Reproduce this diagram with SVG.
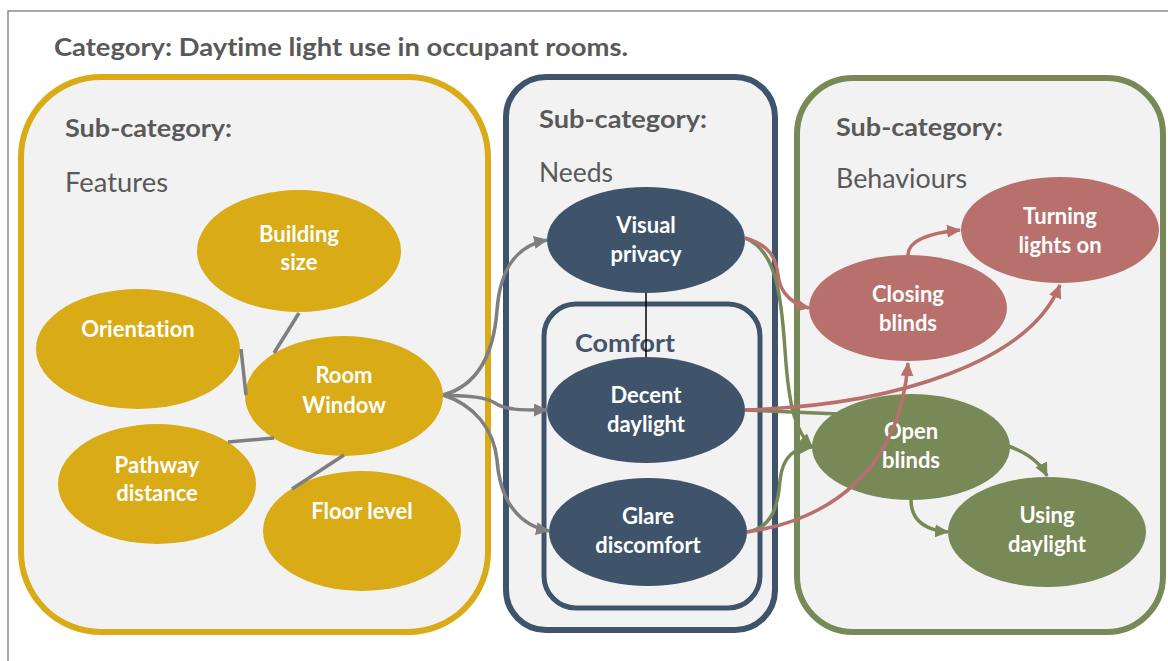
<svg xmlns="http://www.w3.org/2000/svg" width="1168" height="661" viewBox="0 0 1168 661">
<style>
text{font-variant-ligatures:none}
.box{fill:#f2f2f2;stroke-width:6}
.hd{font-family:Lato,"Open Sans","Liberation Sans",sans-serif;font-weight:bold;font-size:25px;fill:#595959}
.sub{font-family:Lato,"Open Sans","Liberation Sans",sans-serif;font-size:26px;fill:#595959}
.lbl{font-family:Lato,"Open Sans","Liberation Sans",sans-serif;font-weight:bold;font-size:22px;fill:#ffffff;text-anchor:middle}
.y{fill:#d8ab17}
.n{fill:#3f546b}
.r{fill:#b8706c}
.g{fill:#778957}
.cg{fill:none;stroke:#7f7f7f;stroke-width:3.5}
.cr{fill:none;stroke:#b8706c;stroke-width:3.5}
.cgr{fill:none;stroke:#778957;stroke-width:3.5}
</style>
<defs>
<marker id="ag" markerUnits="userSpaceOnUse" markerWidth="15" markerHeight="13" refX="13" refY="6.5" orient="auto"><path d="M0,0 L14,6.5 L0,13 z" fill="#7f7f7f"/></marker>
<marker id="ar" markerUnits="userSpaceOnUse" markerWidth="15" markerHeight="13" refX="13" refY="6.5" orient="auto"><path d="M0,0 L14,6.5 L0,13 z" fill="#b8706c"/></marker>
<marker id="agr" markerUnits="userSpaceOnUse" markerWidth="15" markerHeight="13" refX="13" refY="6.5" orient="auto"><path d="M0,0 L14,6.5 L0,13 z" fill="#778957"/></marker>
</defs>
<rect x="0" y="0" width="1168" height="661" fill="#ffffff"/>
<rect x="8" y="11" width="1200" height="700" fill="#ffffff" stroke="#8c8c8c" stroke-width="1.5"/>
<text class="hd" x="54" y="56" textLength="574" lengthAdjust="spacingAndGlyphs">Category: Daytime light use in occupant rooms.</text>

<g id="features">
<rect class="box" x="21" y="77" width="467" height="555" rx="80" ry="80" stroke="#d8ab17"/>
<text class="hd" x="65" y="137" textLength="167" lengthAdjust="spacingAndGlyphs">Sub-category:</text>
<text class="sub" x="65" y="192" textLength="103" lengthAdjust="spacingAndGlyphs">Features</text>
</g>
<g id="needs">
<rect class="box" x="506" y="77" width="269" height="553" rx="40" ry="40" stroke="#3f546b"/>
<text class="hd" x="539" y="128" textLength="168" lengthAdjust="spacingAndGlyphs">Sub-category:</text>
<text class="sub" x="539" y="182" textLength="74" lengthAdjust="spacingAndGlyphs">Needs</text>
</g>
<g id="comfort">
<rect x="544" y="304" width="216" height="304" rx="32" ry="32" fill="#f2f2f2" stroke="#3f546b" stroke-width="5"/>
<text class="hd" x="575" y="352" style="fill:#44546a" textLength="100" lengthAdjust="spacingAndGlyphs">Comfort</text>
</g>
<g id="behaviours">
<rect class="box" x="797" y="78" width="366" height="554" rx="56" ry="56" stroke="#778957"/>
<text class="hd" x="836" y="136" textLength="167" lengthAdjust="spacingAndGlyphs">Sub-category:</text>
<text class="sub" x="836" y="188" textLength="131" lengthAdjust="spacingAndGlyphs">Behaviours</text>
</g>

<g id="building-size"><ellipse class="y" cx="299" cy="251" rx="102" ry="61"/><text class="lbl" x="299" y="242">Building</text><text class="lbl" x="299" y="270">size</text></g>
<g id="orientation"><ellipse class="y" cx="138" cy="349" rx="102" ry="60"/><text class="lbl" x="138" y="337">Orientation</text></g>
<g id="room-window"><ellipse class="y" cx="344" cy="396" rx="99" ry="60"/><text class="lbl" x="344" y="383">Room</text><text class="lbl" x="344" y="413">Window</text></g>
<g id="pathway-distance"><ellipse class="y" cx="157" cy="484" rx="99" ry="60"/><text class="lbl" x="157" y="473">Pathway</text><text class="lbl" x="157" y="501">distance</text></g>
<g id="floor-level"><ellipse class="y" cx="362" cy="531" rx="99" ry="60"/><text class="lbl" x="362" y="519">Floor level</text></g>

<g id="visual-privacy"><ellipse class="n" cx="646" cy="240" rx="99" ry="53"/><text class="lbl" x="646" y="233">Visual</text><text class="lbl" x="646" y="262">privacy</text></g>
<g id="decent-daylight"><ellipse class="n" cx="646" cy="410" rx="99" ry="53"/><text class="lbl" x="646" y="403">Decent</text><text class="lbl" x="646" y="432">daylight</text></g>
<g id="glare-discomfort"><ellipse class="n" cx="648" cy="532" rx="99" ry="54"/><text class="lbl" x="648" y="524">Glare</text><text class="lbl" x="648" y="553">discomfort</text></g>

<g id="turning-lights-on"><ellipse class="r" cx="1060" cy="230" rx="99" ry="53"/><text class="lbl" x="1060" y="224">Turning</text><text class="lbl" x="1060" y="253">lights on</text></g>
<g id="closing-blinds"><ellipse class="r" cx="908" cy="308" rx="99" ry="53"/><text class="lbl" x="908" y="302">Closing</text><text class="lbl" x="908" y="331">blinds</text></g>
<g id="open-blinds"><ellipse class="g" cx="911" cy="447" rx="99" ry="53"/><text class="lbl" x="911" y="439">Open</text><text class="lbl" x="911" y="468">blinds</text></g>
<g id="using-daylight"><ellipse class="g" cx="1047" cy="532" rx="99" ry="55"/><text class="lbl" x="1047" y="523">Using</text><text class="lbl" x="1047" y="552">daylight</text></g>

<g id="connectors">
<line class="cg" x1="299" y1="313" x2="274" y2="353"/>
<line class="cg" x1="241" y1="349" x2="246" y2="395"/>
<line class="cg" x1="228" y1="442" x2="274" y2="438"/>
<line class="cg" x1="292" y1="489" x2="344" y2="455"/>
<path class="cg" d="M443,395 C480,385 494,350 497,310 C500,270 515,246 547,240" marker-end="url(#ag)"/>
<path class="cg" d="M443,395 C470,396 486,397 495,403 C505,410 520,410 547,410" marker-end="url(#ag)"/>
<path class="cg" d="M443,395 C475,405 494,430 497,460 C500,500 518,525 549,531" marker-end="url(#ag)"/>
<line x1="646" y1="293" x2="646" y2="357" stroke="#000000" stroke-width="1.5"/>
<path class="cgr" d="M745,238 C775,250 781,290 785,350 C789,410 796,432 812,447" marker-end="url(#agr)"/>
<path class="cgr" d="M747,532 C770,528 778,510 780,480 C783,455 795,448 812,447" marker-end="url(#agr)"/>
<path class="cgr" d="M745,410 L839,414"/>
<path class="cgr" d="M1008,446 C1025,452 1040,462 1047,476" marker-end="url(#agr)"/>
<path class="cgr" d="M911,500 C911,520 925,530 948,532" marker-end="url(#agr)"/>
<path class="cr" d="M745,238 C770,245 776,258 778,275 C780,295 795,305 809,308" marker-end="url(#ar)"/>
<path class="cr" d="M745,410 C900,405 1030,360 1060,285" marker-end="url(#ar)"/>
<path class="cr" d="M747,532 C830,520 900,470 908,363" marker-end="url(#ar)"/>
<path class="cr" d="M908,255 C908,240 930,233 960,230" marker-end="url(#ar)"/>
</g>
</svg>
